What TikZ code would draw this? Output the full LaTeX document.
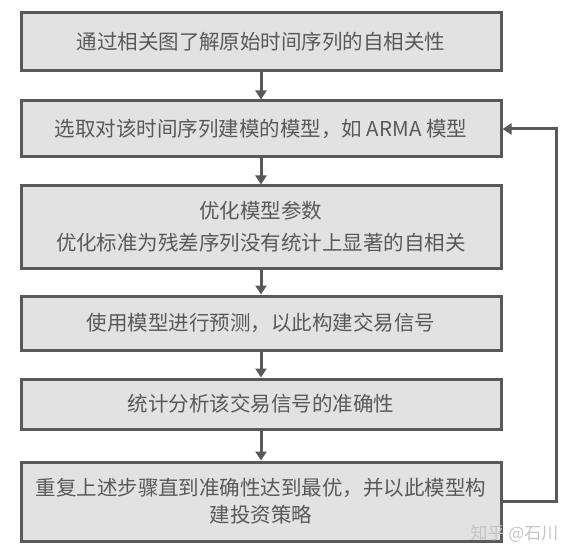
\documentclass[tikz,border=0pt]{standalone}
\usepackage{xcolor}
\usepackage{fontspec}
\setmainfont{Noto Sans CJK SC}
\usetikzlibrary{arrows.meta,calc}
\definecolor{boxfill}{HTML}{E2E2E2}
\definecolor{boxline}{HTML}{595959}
\definecolor{marktext}{HTML}{C4C4C4}

\begin{document}
\begin{tikzpicture}[x=1pt, y=-1pt,
    stepbox/.style={draw=boxline, fill=boxfill, line width=3pt, minimum width=480pt,
        inner sep=0pt, align=center, text=boxline, font=\fontsize{20.5}{27}\selectfont},
    flow/.style={draw=boxline, line width=3pt, -{Triangle[width=11pt,length=9pt]}}]
    \useasboundingbox (0,0) rectangle (576,559);
    % Boxes
    \node[stepbox, minimum height=58pt] (corr) at (261,42) {通过相关图了解原始时间序列的自相关性};
    \node[stepbox, minimum height=56pt] (model) at (261,129) {选取对该时间序列建模的模型，如 ARMA 模型};
    \node[stepbox, minimum height=82pt] (param) at (261,227) {优化模型参数\\[5pt]优化标准为残差序列没有统计上显著的自相关};
    \node[stepbox, minimum height=54pt] (pred) at (261,323) {使用模型进行预测，以此构建交易信号};
    \node[stepbox, minimum height=50pt] (acc) at (261,404) {统计分析该交易信号的准确性};
    \node[stepbox, minimum height=79pt] (repeat) at (261,501.5) {重复上述步骤直到准确性达到最优，并以此模型构\\建投资策略};
    %
    \coordinate (loopdown) at (556,501);
    \coordinate (loopup) at (556,129);
    % Arrows
    \draw[flow] (corr) -- (model);
    \draw[flow] (model) -- (param);
    \draw[flow] (param) -- (pred);
    \draw[flow] (pred) -- (acc);
    \draw[flow] (acc) -- (repeat);
    \draw[flow] (repeat.east |- loopdown) -- (loopdown) -- (loopup) -- (model.east);
    % Watermark
    \node[text=marktext, font=\fontsize{17}{17}\selectfont, anchor=east] (mark) at (562,534) {知乎 @石川};
\end{tikzpicture}
\end{document}
